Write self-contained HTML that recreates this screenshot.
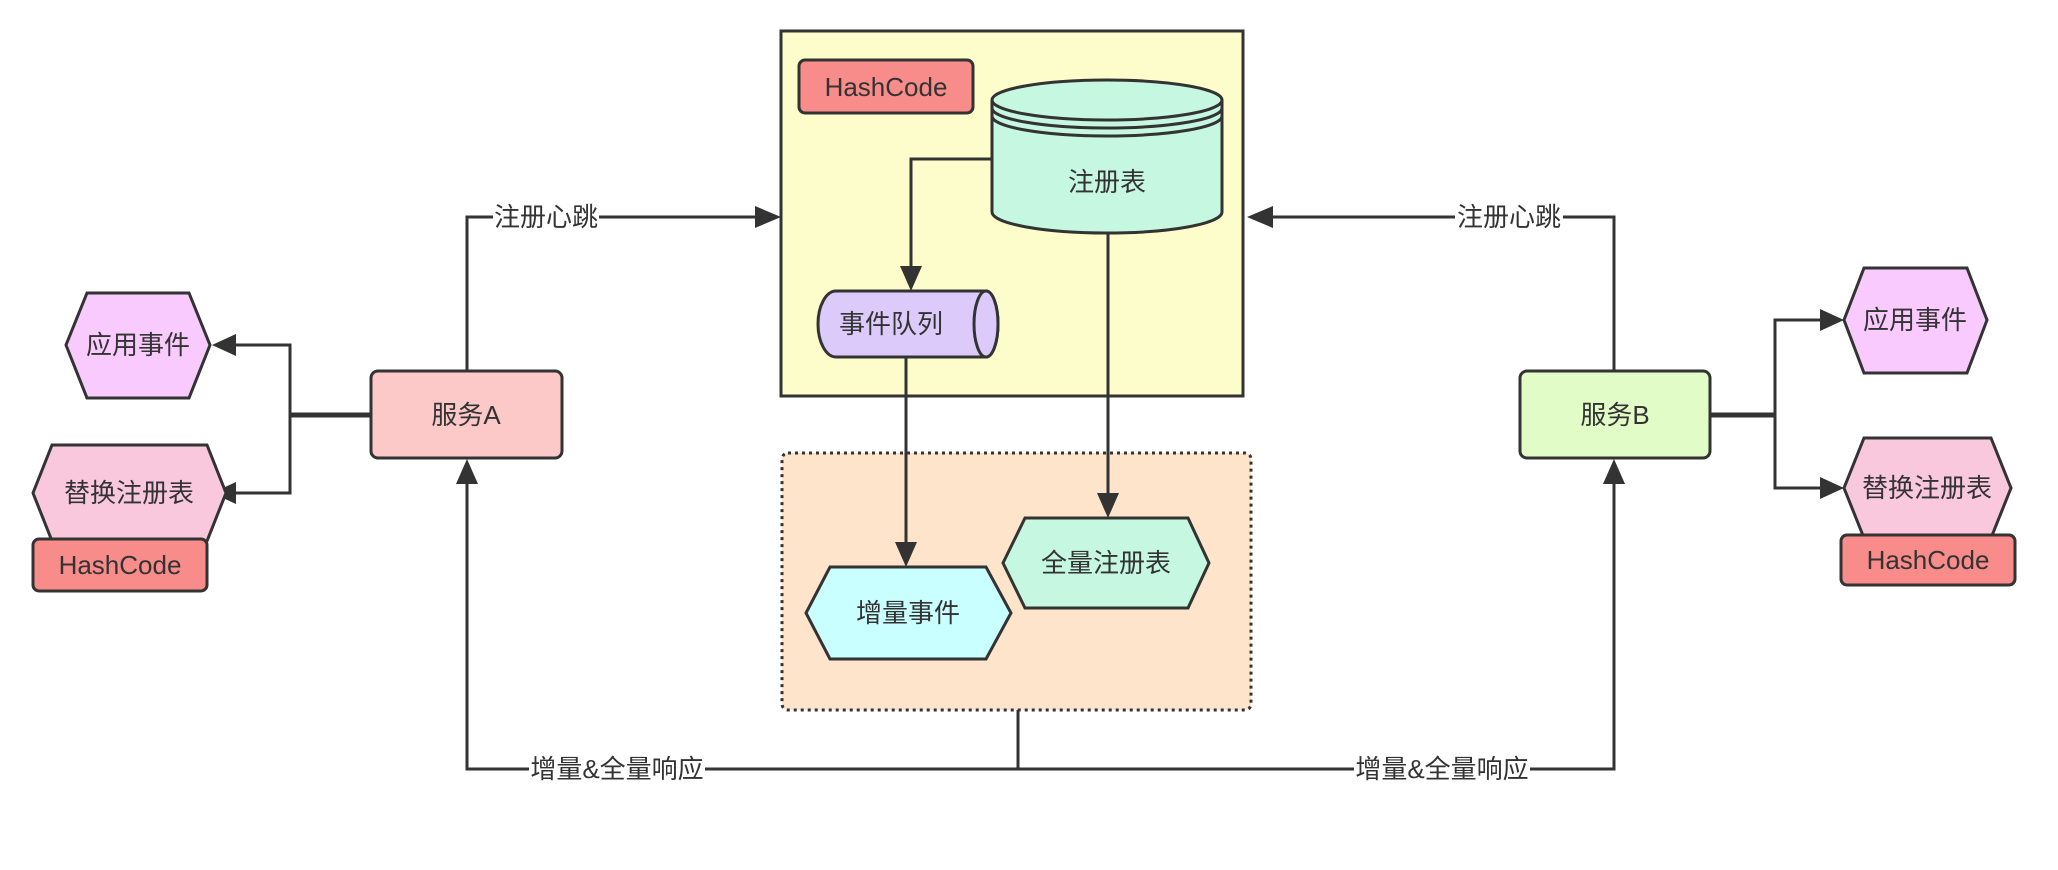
<!DOCTYPE html>
<html><head><meta charset="utf-8"><style>
html,body{margin:0;padding:0;background:#fff;}
svg{display:block}
text{font-family:"Liberation Sans","Noto Sans CJK SC",sans-serif;font-size:26px;fill:#333;dominant-baseline:central;text-anchor:middle}
</style></head><body>
<svg width="2058" height="870" viewBox="0 0 2058 870" xmlns="http://www.w3.org/2000/svg">
<defs>
<marker id="a" markerWidth="10" markerHeight="10" refX="9" refY="5" orient="auto" markerUnits="userSpaceOnUse" viewBox="0 0 10 10">
</marker>
</defs>
<g stroke="#333" stroke-width="3">
<!-- containers -->
<rect x="781" y="31" width="462" height="365" fill="#fdfdcb"/>
<rect x="782" y="453" width="469" height="257" rx="6" fill="#fde4cb" stroke-dasharray="3,4"/>
<!-- connectors -->
<g fill="none">
<polyline points="467,371 467,217 760,217"/>
<polyline points="1614,371 1614,217 1268,217"/>
<polyline points="371,415 290,415" stroke-width="5"/>
<polyline points="230,345 290,345 290,493 230,493"/>
<polyline points="1710,415 1775,415" stroke-width="5"/>
<polyline points="1825,320 1775,320 1775,488 1825,488"/>
<polyline points="992,159 911,159 911,268"/>
<polyline points="906,357 906,545"/>
<polyline points="1108,233 1108,496"/>
<polyline points="467,478 467,769 1614,769 1614,478"/>
<polyline points="1018,710 1018,769"/>
</g>
</g>
<!-- arrowheads -->
<g fill="#333">
<polygon points="781,217 755,206 755,228"/>
<polygon points="1247,217 1273,206 1273,228"/>
<polygon points="212,345 236,334 236,356"/>
<polygon points="212,493 236,482 236,504"/>
<polygon points="1844,320 1820,309 1820,331"/>
<polygon points="1844,488 1820,477 1820,499"/>
<polygon points="911,291 900,266 922,266"/>
<polygon points="906,567 895,542 917,542"/>
<polygon points="1108,518 1097,493 1119,493"/>
<polygon points="467,459 456,484 478,484"/>
<polygon points="1614,459 1603,484 1625,484"/>
</g>
<!-- label backgrounds -->
<g fill="#fff">
<rect x="493" y="200" width="106" height="34"/>
<rect x="1455" y="200" width="108" height="34"/>
<rect x="529" y="752" width="176" height="34"/>
<rect x="1354" y="752" width="176" height="34"/>
</g>
<text x="546" y="217">注册心跳</text>
<text x="1509" y="217">注册心跳</text>
<text x="617" y="769">增量&amp;全量响应</text>
<text x="1442" y="769">增量&amp;全量响应</text>
<g stroke="#333" stroke-width="3">
<rect x="799" y="60" width="174" height="53" rx="6" fill="#f88c8a"/>
<!-- cylinder -->
<path d="M992,100 L992,212 A115,21 0 0 0 1222,212 L1222,100" fill="#c5f7e1"/>
<ellipse cx="1107" cy="100" rx="115" ry="20" fill="#c5f7e1"/>
<path d="M992,108 A115,20 0 0 0 1222,108 M992,116 A115,20 0 0 0 1222,116" fill="none"/>
<!-- queue -->
<path d="M836,291 L986,291 A12,33 0 0 1 986,357 L836,357 A18,33 0 0 1 836,291 Z" fill="#dccafb"/>
<ellipse cx="986" cy="324" rx="12" ry="33" fill="#dccafb"/>
<!-- hexes -->
<polygon points="830,567 986,567 1011,613 986,659 830,659 806,613" fill="#caffff"/>
<polygon points="1025,518 1188,518 1209,563 1188,608 1025,608 1003,563" fill="#c5f7e1"/>
<rect x="371" y="371" width="191" height="87" rx="7" fill="#fcc8c8"/>
<rect x="1520" y="371" width="190" height="87" rx="7" fill="#e2fcc7"/>
<polygon points="87,293 189,293 210,345 189,398 87,398 66,345" fill="#f9cafd"/>
<polygon points="52,445 207,445 226,493 207,541 52,541 33,493" fill="#fac8dd"/>
<rect x="33" y="539" width="174" height="52" rx="6" fill="#f88c8a"/>
<polygon points="1864,268 1967,268 1987,320 1967,373 1864,373 1844,320" fill="#f9cafd"/>
<polygon points="1864,438 1991,438 2011,488 1991,538 1864,538 1844,488" fill="#fac8dd"/>
<rect x="1841" y="535" width="174" height="50" rx="6" fill="#f88c8a"/>
</g>
<text x="886" y="87">HashCode</text>
<text x="1107" y="182">注册表</text>
<text x="891" y="324">事件队列</text>
<text x="908" y="613">增量事件</text>
<text x="1106" y="563">全量注册表</text>
<text x="466" y="415">服务A</text>
<text x="1615" y="415">服务B</text>
<text x="138" y="345">应用事件</text>
<text x="129" y="493">替换注册表</text>
<text x="120" y="565">HashCode</text>
<text x="1915" y="320">应用事件</text>
<text x="1927" y="488">替换注册表</text>
<text x="1928" y="560">HashCode</text>
</svg>
</body></html>
